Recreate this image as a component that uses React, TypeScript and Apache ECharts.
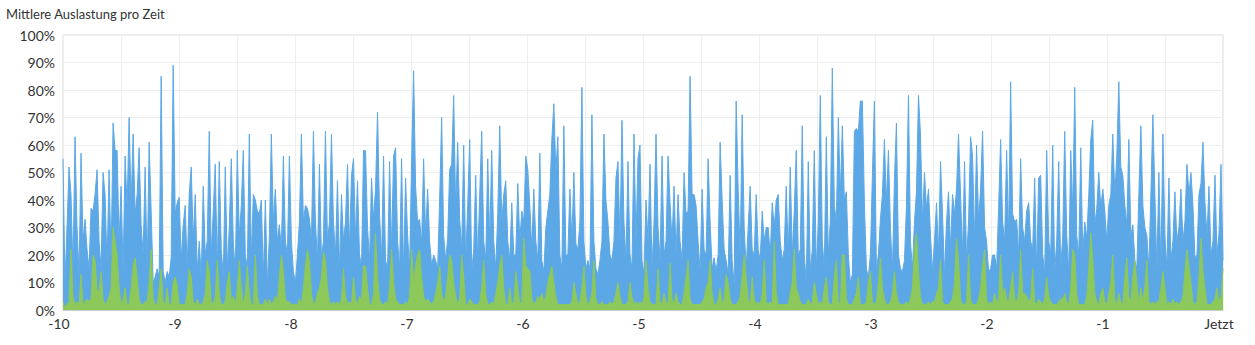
import React, { useEffect, useRef } from "react";
import * as echarts from "echarts";

const chartTitle = "Mittlere Auslastung pro Zeit";
const xMin = -10;
const xMax = 0;
const nowLabel = "Jetzt";
const blueColor = "#5ca8e6";
const greenColor = "#8cc85a";

// Mittlere Auslastung (blau), left to right
const blueLoad = [
  55,10,30,52,42,14,63,30,13,57,25,33,22,15,37,36,42,51,25,15,50,42,16,51,18,68,58,58,25,45,14,56,37,70,38,64,35,42,59,31,20,52,14,61,36,10,12,
  15,12,85,14,10,14,12,19,89,35,39,41,18,31,38,15,42,52,25,42,14,25,12,45,20,25,65,20,36,53,15,54,22,12,52,15,30,55,25,13,58,27,38,58,20,15,64,19,42,
  40,36,35,40,12,40,9,27,64,32,44,25,31,22,56,25,20,56,25,14,10,20,32,64,32,38,37,33,25,65,32,18,53,19,25,65,25,32,64,32,20,47,14,42,25,32,53,22,49,
  55,26,47,20,16,58,58,30,18,48,33,44,72,35,18,56,18,15,54,22,56,59,25,15,55,13,48,27,15,54,87,45,32,33,24,55,27,44,25,16,20,18,15,40,70,27,18,26,51,
  53,78,37,61,33,22,60,18,38,62,14,22,49,18,42,65,25,18,55,25,58,25,15,35,67,32,42,47,25,18,39,20,20,46,25,36,32,56,51,38,22,44,25,18,57,18,14,30,36,
  42,62,75,50,63,20,15,67,20,20,44,25,50,24,22,32,81,25,15,18,15,71,25,15,13,18,25,64,40,32,20,18,25,48,54,25,69,32,18,54,20,15,64,25,55,60,18,13,40,
  25,53,15,32,64,30,18,56,20,25,56,39,25,45,20,42,25,18,50,35,36,85,42,42,38,25,14,44,22,20,55,32,15,19,14,20,61,40,22,18,13,49,18,9,76,44,20,71,30,
  15,30,45,22,20,42,22,18,36,25,30,30,20,39,30,40,42,25,18,22,45,20,52,20,36,58,20,22,67,20,10,54,14,22,58,15,32,78,25,15,63,20,32,88,38,32,70,42,67,
  40,43,20,10,13,65,66,65,76,76,39,15,12,20,49,76,15,20,33,42,62,39,58,30,14,47,68,20,15,14,18,38,78,25,15,32,43,78,64,32,50,37,44,27,14,25,39,20,54,
  35,13,32,43,22,42,35,44,64,42,20,54,18,32,63,56,25,60,32,44,65,30,25,14,15,20,20,15,37,62,32,25,58,27,83,35,32,33,20,55,30,25,36,39,25,22,48,14,48,
  49,20,14,58,25,20,60,14,25,54,15,27,65,27,14,58,36,81,27,20,59,20,32,26,42,62,69,31,37,50,37,44,36,25,38,42,64,42,56,83,52,49,38,31,62,27,31,18,15,
  42,67,38,30,27,15,42,71,42,15,50,15,64,27,15,48,18,25,43,25,30,44,25,32,53,42,50,38,19,20,42,46,61,39,27,45,20,25,49,20,28,53,18,
];

// Zweite Auslastung (grün), left to right
const greenLoad = [
  3,1,2,3,22,5,2,3,2,13,2,3,4,3,4,20,18,7,7,14,4,2,3,5,8,30,25,20,8,2,4,8,2,2,8,16,19,12,4,2,2,3,3,10,22,4,2,
  2,8,15,3,2,8,2,2,10,12,9,2,2,2,2,6,15,12,3,2,4,2,2,3,6,18,14,3,2,5,18,6,2,2,3,10,14,3,5,2,8,18,8,2,6,16,6,2,2,
  20,5,2,2,2,4,2,4,2,3,5,3,12,20,14,4,3,3,2,2,2,2,4,2,8,16,22,18,6,2,3,6,8,12,21,18,8,3,2,3,2,3,2,4,15,5,2,3,2,
  12,4,2,5,3,16,16,8,2,2,6,28,12,4,2,2,3,2,8,22,10,4,3,2,2,2,3,2,5,22,10,16,20,22,12,5,3,4,3,2,3,6,10,16,6,3,5,12,20,
  18,10,5,2,4,20,12,2,2,4,3,2,2,2,3,8,18,6,2,2,3,2,6,10,16,20,8,2,2,8,2,3,14,8,2,3,26,16,15,14,4,2,3,5,4,6,3,5,10,
  13,16,10,5,2,2,2,2,2,2,2,3,10,6,2,3,8,16,5,2,3,6,18,4,2,2,3,2,2,2,3,2,3,6,10,5,2,2,2,3,10,5,2,3,2,3,2,5,18,
  8,3,2,2,2,15,3,2,6,3,2,17,4,2,6,3,2,2,6,12,18,4,2,2,2,2,2,3,4,8,10,18,6,2,2,4,8,2,4,13,10,4,2,2,2,3,5,12,20,
  12,4,2,12,4,2,3,2,6,18,3,2,3,2,25,6,2,2,2,2,2,2,6,10,22,8,6,3,2,2,2,4,2,3,10,6,2,3,2,8,12,3,2,2,12,18,3,2,20,
  20,4,2,2,2,4,6,12,2,2,2,3,10,14,3,2,3,10,19,8,4,2,2,3,6,14,6,3,2,2,2,3,2,4,8,22,28,14,5,2,2,2,3,2,3,3,6,8,18,
  3,2,2,2,3,4,10,26,18,4,2,2,3,20,4,2,2,2,4,8,16,22,4,2,3,2,6,3,4,20,6,8,4,3,8,14,4,3,6,22,6,6,5,3,4,15,3,2,4,
  3,2,4,12,5,3,2,2,2,3,4,4,6,3,2,8,22,20,6,2,2,2,2,5,15,28,18,6,3,2,6,8,3,2,6,10,20,4,2,6,3,2,12,19,5,3,12,18,10,
  2,8,3,8,18,3,2,3,2,3,3,8,14,8,2,3,2,4,2,3,2,3,5,14,22,16,10,3,2,3,12,26,14,8,2,2,2,3,4,8,3,5,15,
];

function xLabel(v: number): string {
  if (!Number.isInteger(v)) return "";
  return v === 0 ? nowLabel : String(v);
}

const FONT = "Lato, 'Noto Sans', sans-serif";

export default function App() {
  const ref = useRef<HTMLDivElement>(null);
  useEffect(() => {
    document.body.style.margin = "0";
    const chart = echarts.init(ref.current!, null, { renderer: "svg" });
    const n = blueLoad.length;
    const step = (xMax - xMin) / (n - 1);
    const toPairs = (arr: number[]) => arr.map((v, i) => [xMin + i * step, v]);
    chart.setOption({
      animation: false,
      textStyle: { fontFamily: FONT },
      title: {
        text: chartTitle,
        left: 6,
        top: 7,
        padding: 0,
        textStyle: { fontSize: 13, fontWeight: "normal", color: "#333", fontFamily: FONT },
      },
      grid: {
        left: 63,
        right: 32,
        top: 35,
        bottom: 35,
        show: true,
        borderColor: "#d8d8d8",
        borderWidth: 1,
        backgroundColor: "transparent",
      },
      xAxis: {
        type: "value",
        min: xMin,
        max: xMax,
        interval: 0.5,
        axisLine: { show: true, onZero: false, lineStyle: { color: "#ccc" } },
        axisTick: { show: false },
        splitLine: { show: true, lineStyle: { color: "#eeeeee" } },
        axisLabel: {
          formatter: (v: number) => xLabel(v),
          color: "#333",
          fontSize: 14,
          margin: 6,
          padding: [0, 8, 0, 0],
          showMinLabel: true,
          showMaxLabel: true,
          fontFamily: FONT,
        },
      },
      yAxis: {
        type: "value",
        min: 0,
        max: 100,
        interval: 10,
        axisLine: { show: false },
        axisTick: { show: false },
        splitLine: { show: true, lineStyle: { color: "#eeeeee" } },
        axisLabel: { formatter: "{value}%", color: "#333", fontSize: 14, margin: 8, fontFamily: FONT },
      },
      series: [
        {
          type: "line",
          data: toPairs(blueLoad),
          showSymbol: false,
          symbol: "none",
          lineStyle: { width: 1, color: blueColor },
          itemStyle: { color: blueColor },
          areaStyle: { color: blueColor, opacity: 1 },
          z: 2,
        },
        {
          type: "line",
          data: toPairs(greenLoad),
          showSymbol: false,
          symbol: "none",
          lineStyle: { width: 1, color: greenColor },
          itemStyle: { color: greenColor },
          areaStyle: { color: greenColor, opacity: 1 },
          z: 3,
        },
      ],
    });
    return () => chart.dispose();
  }, []);
  return <div ref={ref} style={{ position: "absolute", left: 0, top: 0, width: 1255, height: 345 }} />;
}
